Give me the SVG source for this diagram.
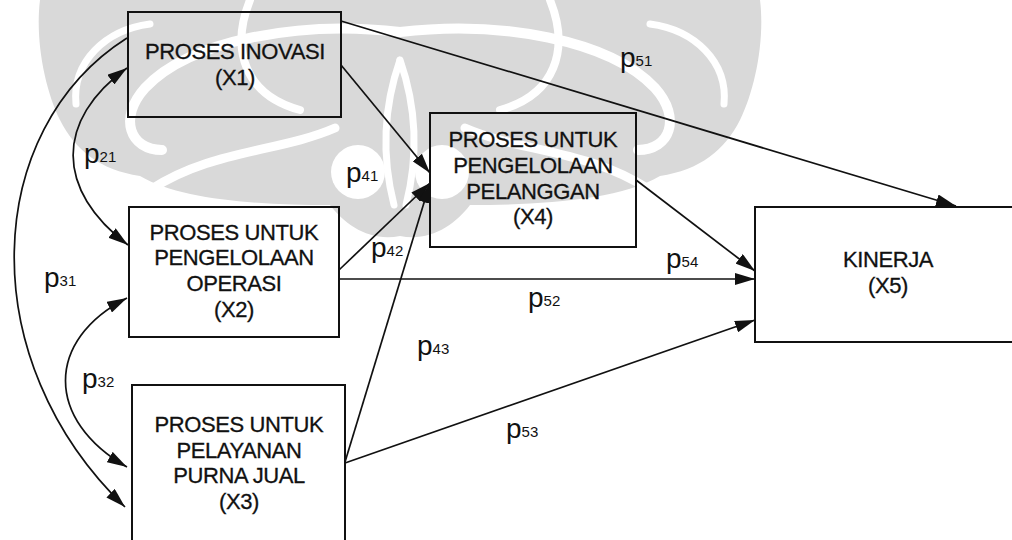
<svg xmlns="http://www.w3.org/2000/svg" xmlns:xlink="http://www.w3.org/1999/xlink" width="1012" height="540" viewBox="0 0 1012 540">
  <style>
    .box { fill: none; stroke: #111; stroke-width: 2; }
    .lbl { font-family: "Liberation Sans", Arial, sans-serif; font-size: 22px; letter-spacing: -0.4px; fill: #111; stroke: #111; stroke-width: 0.3; text-anchor: middle; }
    .p { font-family: "Liberation Sans", Arial, sans-serif; font-size: 28px; fill: #111; }
    .sub { font-size: 15px; }
    .con { fill: none; stroke: #111; stroke-width: 1.7; }
    .wm { fill: #d9d9d9; stroke: none; }
    .wl { fill: none; stroke: #fff; stroke-linecap: round; }
  </style>
  <defs>
    <marker id="ah" viewBox="0 0 20 12" refX="20" refY="6" markerWidth="20" markerHeight="12" markerUnits="userSpaceOnUse" orient="auto-start-reverse">
      <path d="M0,0 L20,6 L0,12 Z" fill="#111"/>
    </marker>
    <g id="wmL">
      <path class="wm" d="M400,0 L40,0 C35,40 45,90 60,120 C75,150 100,170 140,176 C180,200 260,205 330,205 C345,225 370,242 400,236 Z"/>
      <path class="wl" stroke-width="7" d="M150,24 C105,30 72,62 76,104"/>
      <path class="wl" stroke-width="10" d="M400,32 C300,20 190,40 145,88 C118,118 130,150 162,150"/>
      <path class="wl" stroke-width="9" d="M150,190 C210,150 280,152 335,128"/>
      <path class="wl" stroke-width="8" d="M250,0 C230,50 245,95 300,110"/>
      <circle cx="358" cy="172" r="27" fill="#fff"/>
      <path class="wl" stroke-width="7" d="M400,60 C386,100 380,150 394,205"/>
    </g>
  </defs>

  <g id="watermark">
    <use xlink:href="#wmL"/>
    <use xlink:href="#wmL" transform="matrix(-1 0 0 1 800 0)"/>
  </g>

  <g id="connectors">
    <path class="con" d="M341,21 L956,206" marker-end="url(#ah)"/>
    <path class="con" d="M341,65 L430,173" marker-end="url(#ah)"/>
    <path class="con" d="M339,270 L430,183" marker-end="url(#ah)"/>
    <path class="con" d="M345,462 L430,183" marker-end="url(#ah)"/>
    <path class="con" d="M339,279 L755,279" marker-end="url(#ah)"/>
    <path class="con" d="M636,180 L755,271" marker-end="url(#ah)"/>
    <path class="con" d="M345,463 L755,320" marker-end="url(#ah)"/>
    <path class="con" d="M127,68 C55,120 55,190 128,245" marker-start="url(#ah)" marker-end="url(#ah)"/>
    <path class="con" d="M127,298 C45,340 45,420 127,467" marker-start="url(#ah)" marker-end="url(#ah)"/>
    <path class="con" d="M127,38 C-18,130 -28,360 125,507" marker-end="url(#ah)"/>
  </g>

  <g id="X1">
    <rect class="box" x="128" y="12" width="213" height="105"/>
    <text class="lbl" x="235" y="59">PROSES INOVASI</text>
    <text class="lbl" x="235" y="85">(X1)</text>
  </g>
  <g id="X2">
    <rect class="box" x="129" y="207" width="210" height="130"/>
    <text class="lbl" x="234" y="240">PROSES UNTUK</text>
    <text class="lbl" x="234" y="265">PENGELOLAAN</text>
    <text class="lbl" x="234" y="291">OPERASI</text>
    <text class="lbl" x="234" y="317">(X2)</text>
  </g>
  <g id="X3">
    <rect class="box" x="132" y="385" width="213" height="175"/>
    <text class="lbl" x="239" y="432">PROSES UNTUK</text>
    <text class="lbl" x="239" y="458">PELAYANAN</text>
    <text class="lbl" x="239" y="483">PURNA JUAL</text>
    <text class="lbl" x="239" y="509">(X3)</text>
  </g>
  <g id="X4">
    <rect class="box" x="430" y="113" width="206" height="134"/>
    <text class="lbl" x="533" y="147">PROSES UNTUK</text>
    <text class="lbl" x="533" y="173">PENGELOLAAN</text>
    <text class="lbl" x="533" y="199">PELANGGAN</text>
    <text class="lbl" x="533" y="224">(X4)</text>
  </g>
  <g id="X5">
    <rect class="box" x="755" y="207" width="280" height="135"/>
    <text class="lbl" x="888" y="267">KINERJA</text>
    <text class="lbl" x="888" y="293">(X5)</text>
  </g>

  <g id="labels">
    <text class="p" x="84" y="163">p<tspan class="sub" dy="-1">21</tspan></text>
    <text class="p" x="346" y="182">p<tspan class="sub" dy="-1">41</tspan></text>
    <text class="p" x="371" y="257">p<tspan class="sub" dy="-1">42</tspan></text>
    <text class="p" x="44" y="287">p<tspan class="sub" dy="-1">31</tspan></text>
    <text class="p" x="82" y="388">p<tspan class="sub" dy="-1">32</tspan></text>
    <text class="p" x="620" y="67">p<tspan class="sub" dy="-1">51</tspan></text>
    <text class="p" x="666" y="268">p<tspan class="sub" dy="-1">54</tspan></text>
    <text class="p" x="528" y="307">p<tspan class="sub" dy="-1">52</tspan></text>
    <text class="p" x="417" y="355">p<tspan class="sub" dy="-1">43</tspan></text>
    <text class="p" x="506" y="438">p<tspan class="sub" dy="-1">53</tspan></text>
  </g>
</svg>
